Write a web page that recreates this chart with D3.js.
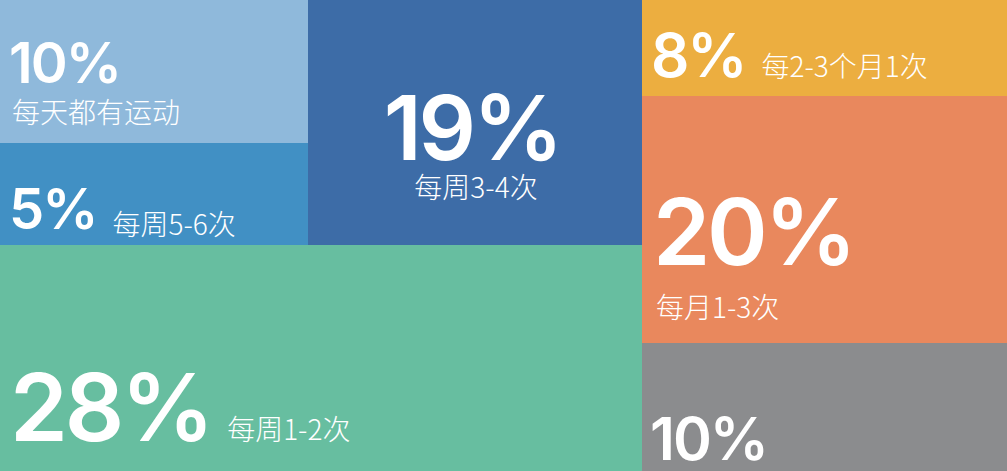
<!DOCTYPE html>
<html>
<head>
<meta charset="utf-8">
<script src="https://cdn.jsdelivr.net/npm/d3@7"></script>
<style>
  html, body { margin: 0; padding: 0; background: #fff; }
  svg { display: block; }
  .num { font-family: Inter, Lato, "Noto Sans", sans-serif; font-weight: 600; fill: #fff; letter-spacing: -0.035em; }
  .sub { font-family: "Noto Sans CJK SC", sans-serif; font-weight: 300; fill: #fff; }
</style>
</head>
<body>
<svg id="chart"></svg>
<script>
const width = 1007;
const height = 471;

// Frequency categories (one tile each)
const categories = ["每天都有运动", "每周5-6次", "每周3-4次", "每周1-2次", "每2-3个月1次", "每月1-3次", ""];
// Percentages printed on the tiles
const percents = [10, 5, 19, 28, 8, 20, 10];
// Share of the area each tile takes in the picture (%)
const tileShare = [9.3, 6.6, 17.3, 30.6, 7.4, 19.0, 9.8];
// Group each tile sits in
const parents = ["topLeft", "topLeft", "top", "left", "right", "right", "right"];
const colors = ["#8fb9db", "#4190c4", "#3d6ca7", "#67bea0", "#ecae40", "#e9885d", "#8b8c8e"];

// Group tree: root splits left/right, left splits top/bottom, top splits left/right...
const groupRows = [
    { id: "root", parent: null },
    { id: "left", parent: "root" },
    { id: "right", parent: "root" },
    { id: "top", parent: "left" },
    { id: "topLeft", parent: "top" }
];

// Label layout per tile (mode, font size, baselines from tile top, left padding)
const labelLayout = [
    { mode: "stack",  size: 56, numY: 83,  subY: 123, dx: 9 },
    { mode: "inline", size: 56, numY: 86,  subY: 92,  dx: 9 },
    { mode: "center", size: 90, numY: 160, subY: 198, dx: 0 },
    { mode: "inline", size: 93, numY: 196, subY: 195, dx: 10 },
    { mode: "inline", size: 60, numY: 77,  subY: 77,  dx: 9 },
    { mode: "stack",  size: 92, numY: 169, subY: 222, dx: 11 },
    { mode: "stack",  size: 59, numY: 117, subY: 150, dx: 8 }
];

const rows = groupRows.concat(categories.map((c, i) => ({
    id: "leaf" + i, parent: parents[i], index: i
})));

const root = d3.stratify()
    .id(d => d.id)
    .parentId(d => d.parent)(rows)
    .sum(d => d.index === undefined ? 0 : tileShare[d.index]);

d3.treemap()
    .tile(d3.treemapSliceDice)
    .size([width, height])
    .round(true)(root);

const svg = d3.select("#chart")
    .attr("width", width)
    .attr("height", height);

const leaves = root.leaves();

const cell = svg.selectAll("g.cell")
    .data(leaves)
    .enter()
    .append("g")
    .attr("class", "cell")
    .attr("transform", d => `translate(${d.x0},${d.y0})`);

cell.append("rect")
    .attr("width", d => d.x1 - d.x0)
    .attr("height", d => d.y1 - d.y0)
    .style("fill", d => colors[d.data.index]);

cell.each(function(d) {
    const i = d.data.index;
    const lay = labelLayout[i];
    const g = d3.select(this);
    const w = d.x1 - d.x0;

    const num = g.append("text")
        .attr("class", "num")
        .style("font-size", lay.size + "px")
        .attr("y", lay.numY)
        .text(percents[i] + "%");

    if (!categories[i]) {
        num.attr("x", lay.dx);
        return;
    }

    const sub = g.append("text")
        .attr("class", "sub")
        .style("font-size", "28px")
        .attr("y", lay.subY)
        .text(categories[i]);

    if (lay.mode === "center") {
        num.attr("x", w / 2 - 3).attr("text-anchor", "middle");
        sub.attr("x", w / 2 + 1).attr("text-anchor", "middle");
    } else if (lay.mode === "inline") {
        num.attr("x", lay.dx);
        const numW = num.node().getComputedTextLength();
        sub.attr("x", lay.dx + numW + 16);
    } else {
        num.attr("x", lay.dx);
        sub.attr("x", lay.dx + 3);
    }
});
</script>
</body>
</html>
